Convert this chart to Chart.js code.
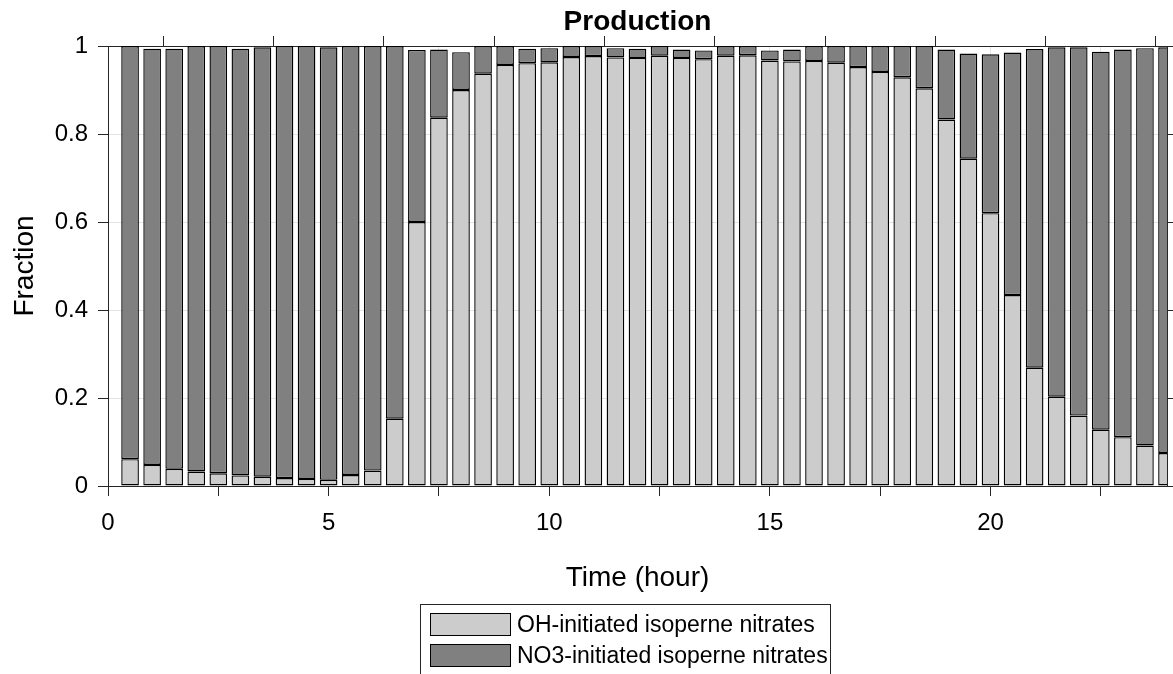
<!DOCTYPE html>
<html lang="en">
  <head>
    <meta charset="UTF-8" />
    <title>Production</title>
    <script src="https://cdn.jsdelivr.net/npm/chart.js@4.4.1/dist/chart.umd.min.js"></script>
    <style>
      html,
      body {
        margin: 0;
        padding: 0;
        background: #fff;
      }
      #wrap {
        width: 1173px;
        height: 674px;
      }
    </style>
  </head>
  <body>
    <div id="wrap">
      <canvas id="chart" width="1173" height="674"></canvas>
    </div>
    <script>
      // hours (bar centres)
      const hours = [
        0.5, 1, 1.5, 2, 2.5, 3, 3.5, 4, 4.5, 5, 5.5, 6, 6.5, 7, 7.5, 8, 8.5, 9,
        9.5, 10, 10.5, 11, 11.5, 12, 12.5, 13, 13.5, 14, 14.5, 15, 15.5, 16,
        16.5, 17, 17.5, 18, 18.5, 19, 19.5, 20, 20.5, 21, 21.5, 22, 22.5, 23,
        23.5, 24,
      ];

      const ohFraction = [
        0.061, 0.048, 0.039, 0.033, 0.029, 0.024, 0.021, 0.018, 0.016, 0.014,
        0.025, 0.035, 0.153, 0.6, 0.837, 0.9, 0.937, 0.957, 0.961, 0.963, 0.975,
        0.977, 0.974, 0.973, 0.978, 0.973, 0.97, 0.978, 0.979, 0.967, 0.965,
        0.966, 0.962, 0.952, 0.941, 0.929, 0.904, 0.833, 0.744, 0.62, 0.434,
        0.269, 0.203, 0.16, 0.128, 0.111, 0.092, 0.075,
      ];

      const no3Fraction = [
        0.939, 0.946, 0.955, 0.967, 0.971, 0.97, 0.976, 0.982, 0.984, 0.983,
        0.975, 0.965, 0.847, 0.391, 0.155, 0.086, 0.063, 0.043, 0.033, 0.032,
        0.025, 0.023, 0.021, 0.021, 0.022, 0.019, 0.02, 0.022, 0.021, 0.023,
        0.027, 0.034, 0.038, 0.048, 0.059, 0.071, 0.096, 0.159, 0.239, 0.361,
        0.551, 0.724, 0.794, 0.837, 0.859, 0.881, 0.903, 0.922,
      ];

      const xLabels = [0, 5, 10, 15, 20];

      const axisColor = "#262626";
      const gridColor = "#e4e4e4";
      const font = "'Liberation Sans', Arial, Helvetica, sans-serif";

      Chart.defaults.font.family = font;
      Chart.defaults.color = axisColor;

      // title centred over the axes box, not over the canvas
      const axesTitle = {
        id: "axesTitle",
        afterDraw(chart) {
          const ctx = chart.ctx;
          const a = chart.chartArea;
          ctx.save();
          ctx.font = "bold 28px " + font;
          ctx.fillStyle = "#000";
          ctx.textAlign = "center";
          ctx.textBaseline = "middle";
          ctx.fillText("Production", (a.left + a.right) / 2, 22);
          ctx.restore();
        },
      };

      // boxed legend under the axis, like the matlab one
      const boxLegend = {
        id: "boxLegend",
        afterDraw(chart) {
          const ctx = chart.ctx;
          ctx.save();
          ctx.fillStyle = "#fff";
          ctx.strokeStyle = axisColor;
          ctx.lineWidth = 1;
          ctx.fillRect(420.5, 604.5, 410, 80);
          ctx.strokeRect(420.5, 604.5, 410, 80);
          ctx.font = "23px " + font;
          ctx.textBaseline = "middle";
          chart.data.datasets.forEach((ds, i) => {
            const y = 613.5 + i * 31;
            ctx.fillStyle = ds.backgroundColor;
            ctx.fillRect(430.5, y, 80, 22);
            ctx.strokeStyle = "#000";
            ctx.strokeRect(430.5, y, 80, 22);
            ctx.fillStyle = "#000";
            ctx.fillText(ds.label, 517, y + 12);
          });
          ctx.restore();
        },
      };

      new Chart(document.getElementById("chart"), {
        type: "bar",
        data: {
          datasets: [
            {
              label: "OH-initiated isoperne nitrates",
              data: hours.map((h, i) => ({ x: h, y: ohFraction[i] })),
              backgroundColor: "#cccccc",
              borderColor: "#000",
              borderWidth: 1.4,
              borderSkipped: false,
              clip: 0,
            },
            {
              label: "NO3-initiated isoperne nitrates",
              data: hours.map((h, i) => ({ x: h, y: no3Fraction[i] })),
              backgroundColor: "#808080",
              borderColor: "#000",
              borderWidth: 1.4,
              borderSkipped: false,
              clip: 0,
            },
          ],
        },
        options: {
          responsive: false,
          animation: false,
          categoryPercentage: 1.0,
          barPercentage: 0.8,
          layout: { padding: { left: 0, right: 0, top: 36, bottom: 74 } },
          plugins: {
            legend: { display: false },
            tooltip: { enabled: false },
            title: { display: false },
          },
          scales: {
            x: {
              type: "linear",
              position: "bottom",
              stacked: true,
              offset: false,
              min: 0,
              max: 24,
              grid: {
                offset: false,
                color: gridColor,
                tickColor: axisColor,
                tickLength: 10,
              },
              border: { color: axisColor, width: 1 },
              ticks: {
                stepSize: 2.5,
                includeBounds: false,
                autoSkip: false,
                maxRotation: 0,
                padding: 13,
                font: { size: 24 },
                color: "#000",
                callback: (v) => (xLabels.includes(v) ? String(v) : ""),
              },
              title: {
                display: true,
                text: "Time (hour)",
                color: "#000",
                font: { size: 28 },
                padding: { top: 0, bottom: 5 },
              },
              afterFit: (s) => {
                s.height = 114;
              },
            },
            x2: {
              type: "linear",
              position: "top",
              offset: false,
              min: 0,
              max: 24,
              grid: {
                drawOnChartArea: false,
                tickColor: axisColor,
                tickLength: 10,
              },
              border: { color: axisColor, width: 1 },
              ticks: { stepSize: 2.5, includeBounds: false, display: false },
            },
            y: {
              position: "left",
              stacked: true,
              min: 0,
              max: 1,
              grid: {
                color: gridColor,
                tickColor: axisColor,
                tickLength: 10,
              },
              border: { color: axisColor, width: 1 },
              ticks: {
                stepSize: 0.2,
                padding: 10,
                font: { size: 24 },
                color: "#000",
                callback: (v) => String(Number(v.toFixed(1))),
              },
              title: {
                display: true,
                text: "Fraction",
                color: "#000",
                font: { size: 28 },
                padding: { top: 8, bottom: 0 },
              },
              afterFit: (s) => {
                s.width = 108;
              },
            },
            y2: {
              position: "right",
              min: 0,
              max: 1,
              grid: {
                drawOnChartArea: false,
                tickColor: axisColor,
                tickLength: 10,
              },
              border: { color: axisColor, width: 1 },
              ticks: { stepSize: 0.2, display: false },
              afterFit: (s) => {
                s.width = 6;
              },
            },
          },
        },
        plugins: [axesTitle, boxLegend],
      });
    </script>
  </body>
</html>
